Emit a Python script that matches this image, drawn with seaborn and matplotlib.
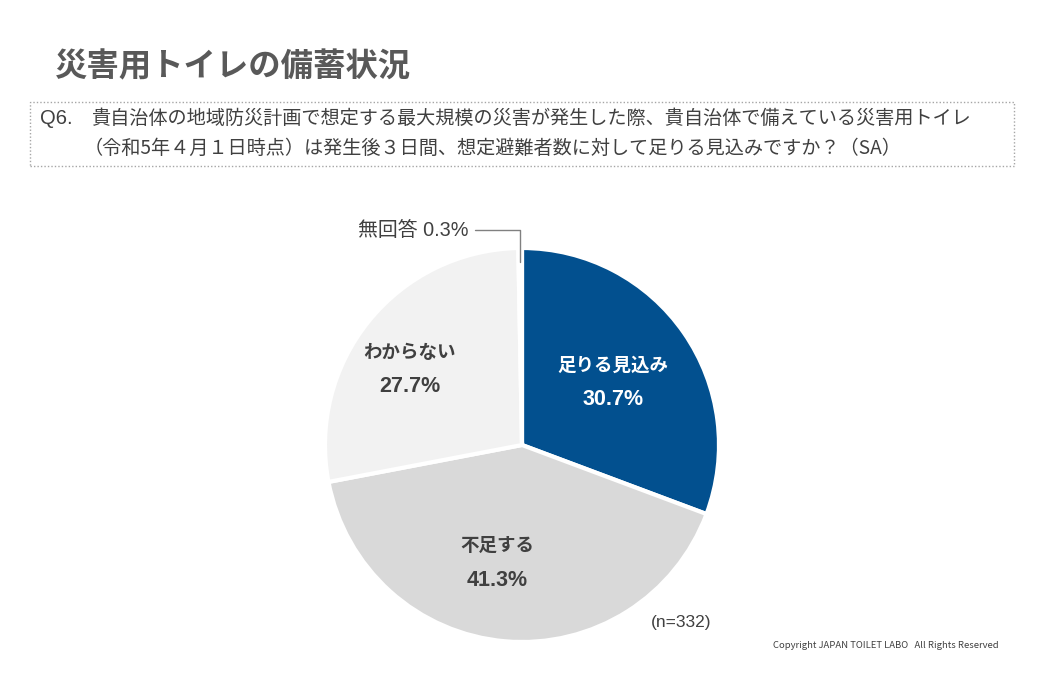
import numpy as np
import matplotlib
matplotlib.use("Agg")
import matplotlib.pyplot as plt
import seaborn as sns
from matplotlib.patches import Rectangle

categories = ["足りる見込み", "不足する", "わからない", "無回答"]
values = [30.7, 41.3, 27.7, 0.3]
pct_labels = ["30.7%", "41.3%", "27.7%", "0.3%"]
colors = ["#02508F", "#D9D9D9", "#F2F2F2", "#BFBFBF"]
label_colors = ["white", "#404040", "#404040", "#404040"]
label_dist = [0.56, 0.61, 0.69]
label_angle_shift = [0, -7, 5]

title = "災害用トイレの備蓄状況"
q_prefix = "Q6."
q_line1 = "貴自治体の地域防災計画で想定する最大規模の災害が発生した際、貴自治体で備えている災害用トイレ"
q_line2 = "（令和5年４月１日時点）は発生後３日間、想定避難者数に対して足りる見込みですか？（SA）"
n_note = "(n=332)"
copyright_txt = "Copyright JAPAN TOILET LABO   All Rights Reserved"

sns.set_theme(style="white")
plt.rcParams['font.family'] = ['Noto Sans CJK JP', 'DejaVu Sans']
latin = ['Liberation Sans', 'Noto Sans CJK JP']

W, H = 1043, 696
fig = plt.figure(figsize=(W / 100, H / 100), dpi=100)
fig.patch.set_facecolor("white")

# Title
fig.text(55 / W, 1 - 67 / H, title, fontsize=23.3, fontweight="bold", color="#595959",
         va="center", ha="left")

# Question box
box = Rectangle((30 / W, 1 - 166 / H), (1014 - 30) / W, (166 - 102) / H,
                transform=fig.transFigure, fill=False, edgecolor="#A6A6A6",
                linestyle=(0, (1, 1.5)), linewidth=1)
fig.patches.append(box)
fig.text(40 / W, 1 - 118 / H, q_prefix, fontsize=14.5, color="#404040", va="center", ha="left",
         family=latin)
fig.text(92 / W, 1 - 118 / H, q_line1, fontsize=13.8, color="#404040", va="center", ha="left")
fig.text(84 / W, 1 - 148 / H, q_line2, fontsize=13.8, color="#404040", va="center", ha="left")

# Pie
cx, cy, r = 522, 445, 197
ax = fig.add_axes([(cx - r) / W, 1 - (cy + r) / H, 2 * r / W, 2 * r / H])
wedges, _ = ax.pie(values, colors=colors, startangle=90, counterclock=False,
                   wedgeprops=dict(edgecolor="white", linewidth=3))
ax.set_xlim(-1, 1)
ax.set_ylim(-1, 1)
ax.set_aspect("equal")
ax.axis("off")

for i in range(3):
    w = wedges[i]
    mid = np.deg2rad((w.theta1 + w.theta2) / 2 + label_angle_shift[i])
    x, y = label_dist[i] * np.cos(mid), label_dist[i] * np.sin(mid)
    ax.text(x, y + 0.085, categories[i], ha="center", va="center", fontsize=13.3,
            fontweight="bold", color=label_colors[i])
    ax.text(x, y - 0.09, pct_labels[i], ha="center", va="center", fontsize=15.5,
            fontweight="bold", color=label_colors[i], family=latin)

# Leader for 無回答
w = wedges[3]
mid = np.deg2rad((w.theta1 + w.theta2) / 2)
x0, y0 = 0.93 * np.cos(mid), 0.93 * np.sin(mid)
ytop = 1.09
ax.plot([x0, x0, -0.24], [y0, ytop, ytop], color="#808080", lw=1, clip_on=False)
ax.text(-0.27, ytop, f"{categories[3]} {pct_labels[3]}", ha="right", va="center",
        fontsize=14.3, color="#404040", clip_on=False, family=latin)

fig.text(651 / W, 1 - 622 / H, n_note, fontsize=12.5, color="#404040", va="center", ha="left",
         family=latin)
fig.text(999 / W, 1 - 645 / H, copyright_txt, fontsize=6.8, color="#404040", va="center", ha="right")

fig.savefig("out.png", dpi=100, facecolor="white")
